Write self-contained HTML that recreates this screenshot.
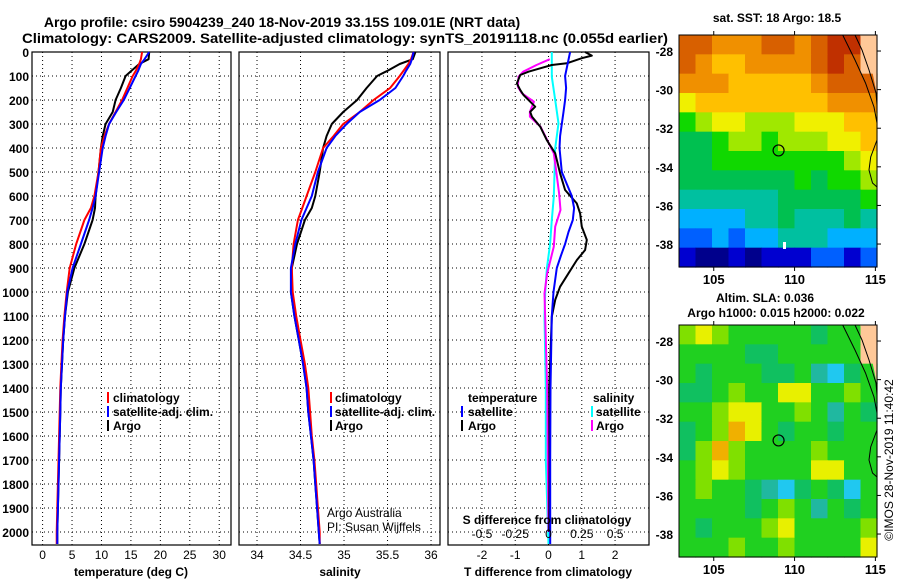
<!DOCTYPE html>
<html><head><meta charset="utf-8"><style>
html,body{margin:0;padding:0;background:#fff;}
svg{display:block;font-family:"Liberation Sans",Arial,sans-serif;}
</style></head><body>
<svg id="fig" width="900" height="580" viewBox="0 0 900 580" xmlns="http://www.w3.org/2000/svg">
<text x="282" y="27" text-anchor="middle" font-size="14" font-weight="bold">Argo profile: csiro 5904239_240 18-Nov-2019 33.15S 109.01E (NRT data)</text>
<text x="22" y="43" font-size="14" font-weight="bold" textLength="646" lengthAdjust="spacingAndGlyphs">Climatology: CARS2009. Satellite-adjusted climatology: synTS_20191118.nc (0.055d earlier)</text>
<g id="maps"></g>
<g id="plots"></g>
<text transform="translate(893,460) rotate(-90)" text-anchor="middle" font-size="12">©IMOS 28-Nov-2019 11:40:42</text>
</svg>
<script>
// ---------- data ----------
const depthT = [0,30,50,80,100,150,200,250,300,350,400,500,600,650,700,800,900,1000,1100,1200,1300,1400,1500,1600,1700,1800,1900,2000,2050];
const tempClim = [16.9,16.7,16.4,15.8,15.3,14.4,13.5,12.4,11.3,10.5,9.9,9.5,8.8,8.2,7.1,5.7,4.6,4.1,3.7,3.4,3.2,3.0,2.9,2.8,2.7,2.6,2.5,2.4,2.4];
const tempSat = [18.1,17.3,16.7,16.2,15.8,14.8,13.8,12.5,11.3,10.7,10.2,9.6,9.0,8.5,7.9,6.5,5.1,4.2,3.8,3.5,3.3,3.1,3.0,2.9,2.8,2.7,2.6,2.5,2.5];
const tempArgo = [18.1,18.0,16.4,15.0,14.1,13.3,12.4,11.9,10.7,10.2,9.9,9.5,9.0,8.9,8.5,7.1,5.4,4.3,3.8,3.5,3.3,3.1,3.0,2.9,2.8,2.7,2.6,2.5,2.5];
const salClim = [35.80,35.77,35.74,35.68,35.64,35.53,35.34,35.18,34.99,34.88,34.76,34.67,34.57,34.52,34.47,34.42,34.40,34.41,34.45,34.50,34.55,34.59,34.61,34.63,34.66,34.68,34.70,34.72,34.72];
const salSat = [35.80,35.78,35.76,35.71,35.68,35.59,35.41,35.18,35.03,34.90,34.80,34.70,34.63,34.57,34.51,34.44,34.39,34.39,34.43,34.48,34.53,34.57,34.59,34.62,34.65,34.67,34.69,34.71,34.72];
const salArgo = [35.82,35.79,35.64,35.49,35.38,35.26,35.15,34.99,34.86,34.80,34.76,34.72,34.67,34.63,34.55,34.46,34.40,34.39,34.43,34.48,34.53,34.57,34.59,34.62,34.65,34.67,34.69,34.71,34.72];
const depthDTsat = [0,100,150,200,250,300,350,400,500,550,600,650,700,750,800,850,900,1000,1100,1400,1700,2050];
const dTsat = [0.65,0.5,0.53,0.5,0.45,0.4,0.35,0.33,0.4,0.55,0.7,0.77,0.73,0.6,0.5,0.37,0.25,0.15,0.1,0.06,0.05,0.05];
const depthDTargo = [0,15,26,47,54,68,82,96,131,158,179,207,228,249,269,311,367,422,506,575,631,672,728,783,825,867,922,978,1033,1103,1400,1700,2000];
const dTargo = [1.1,1.3,1.0,0.55,0.1,-0.25,-0.6,-0.85,-0.95,-0.85,-0.75,-0.55,-0.4,-0.55,-0.5,-0.25,-0.05,0.2,0.35,0.5,0.85,0.95,1.0,1.15,1.1,0.85,0.6,0.35,0.2,0.1,0.02,0.03,0.02];
const depthDSargo = [30,54,82,103,145,172,207,249,269,311,367,422,506,589,658,728,811,922,1006,1400,2000];
const dSargo = [0.01,-0.09,-0.19,-0.225,-0.23,-0.2,-0.11,-0.14,-0.14,-0.06,-0.01,0.04,0.06,0.08,0.09,0.05,0.04,-0.01,-0.03,-0.01,0.0];
const depthDSsat = [0,103,200,297,401,506,603,700,800,900,1000,1103,1400,1700,2050];
const dSsat = [0.025,0.025,0.05,0.075,0.05,0.045,0.04,0.025,0.012,-0.012,-0.025,-0.03,-0.02,-0.02,0.0];
const depthTicks = [0,100,200,300,400,500,600,700,800,900,1000,1100,1200,1300,1400,1500,1600,1700,1800,1900,2000];
const tempTicks = [0,5,10,15,20,25,30];
const salTicks = [34,34.5,35,35.5,36];
const salTickLabels = ["34","34.5","35","35.5","36"];
const dTTicks = [-2,-1,0,1,2];
const dSTicks = [-0.5,-0.25,0,0.25,0.5];
const dSTickLabels = ["-0.5","-0.25","0","0.25","0.5"];
const latTicks = [-28,-30,-32,-34,-36,-38];
const lonTicks = [105,110,115];
// SST colour index grid (12x12, row 0 = north)
const sstGrid = [
[11,11,10,10,10,11,11,10,11,12,12,-1],
[11,10,9,9,10,10,10,10,11,12,11,-1],
[10,10,10,9,9,9,9,9,10,11,11,11],
[8,9,9,9,9,9,9,9,9,10,10,10],
[6,7,8,8,7,7,7,8,8,8,9,9],
[5,5,6,7,7,6,7,7,7,8,8,9],
[5,5,6,6,6,6,6,6,6,6,7,8],
[5,5,5,5,5,5,5,6,5,6,6,7],
[4,4,4,4,4,4,5,5,5,5,5,6],
[3,3,3,3,4,4,5,4,4,4,5,4],
[2,2,3,2,3,3,4,4,4,3,3,3],
[1,0,0,1,0,1,1,1,2,2,1,2]];
const slaGrid = [
[4,5,4,3,3,3,3,3,2,3,3,-1],
[3,3,3,3,2,2,3,3,3,3,3,-1],
[3,2,3,3,3,2,2,3,1,0,2,3],
[2,2,3,4,3,3,5,5,3,3,4,3],
[3,3,4,5,5,3,3,4,3,1,3,2],
[2,3,4,6,5,3,2,3,3,2,3,3],
[2,4,6,4,3,3,3,3,4,3,3,3],
[3,4,5,4,3,3,3,3,5,5,3,3],
[3,4,3,3,2,1,0,2,3,2,0,3],
[3,3,3,3,2,3,4,3,1,3,2,3],
[3,2,3,3,3,4,5,3,3,3,3,4],
[3,3,3,4,3,3,4,3,3,3,3,5]];
const sstColors = ["#00008c","#0000d0","#0060ff","#00b0ff","#00c0a0","#00c050","#10d800","#a0e800","#f0f000","#ffc000","#f09000","#d86000","#c03000","#a00000"];
const slaColors = ["#20c8f0","#20b8a0","#10c060","#20d020","#80e000","#e8f000","#f0b000"];
const floatLon = 109.01, floatLat = -33.15;

// ---------- helpers ----------
const NS = "http://www.w3.org/2000/svg";
function mk(tag, attrs, parent){ const e=document.createElementNS(NS,tag); for(const k in attrs) e.setAttribute(k,attrs[k]); parent.appendChild(e); return e; }
const plots = document.getElementById('plots');
const Y0=52, YB=545, DMAX=(YB-Y0)/0.24;
function yD(d){ return Y0 + d*0.24; }

function panel(name, x0, x1, vmin, vmax, ticks, labels){
  const g = mk('g',{},plots);
  
  
  const sx = v => x0 + (v-vmin)/(vmax-vmin)*(x1-x0);
  depthTicks.forEach(d=>{
    const l = mk('line',{x1:x0,x2:x1,y1:yD(d),y2:yD(d),stroke:'#000','stroke-width':1,'stroke-dasharray':'1,3'},g);
    
    
  });
  ticks.forEach((t,i)=>{
    const l = mk('line',{x1:sx(t),x2:sx(t),y1:Y0,y2:YB,stroke:'#000','stroke-width':1,'stroke-dasharray':'1,3'},g);
    
    
    if(labels){
      const tx = mk('text',{x:sx(t),y:559,'text-anchor':'middle','font-size':12},g);
      tx.textContent = labels[i];
      
      
    }
  });
  const r = mk('rect',{x:x0,y:Y0,width:x1-x0,height:YB-Y0,fill:'none',stroke:'#000','stroke-width':1.2},g);
  
  
  return {g, sx};
}
function series(p, depths, vals, color, name){
  const pts = depths.map((d,i)=>p.sx(vals[i]).toFixed(1)+','+yD(d).toFixed(1)).join(' ');
  const pl = mk('polyline',{points:pts,fill:'none',stroke:color,'stroke-width':2,'stroke-linejoin':'round'},p.g);
  
  
}
function label(g, x, y, txt, name, opts){
  const t = mk('text',Object.assign({x:x,y:y,'font-size':12},opts||{}),g);
  t.textContent = txt;
  
  
  return t;
}
function legBar(g,x,y,color,name){
  const r = mk('rect',{x:x,y:y-10,width:2,height:11,fill:color},g);
  
  
}

// ---------- panel 1: temperature ----------
const p1 = panel('temperature-panel', 32, 231, -1.8, 32, tempTicks, tempTicks.map(String));
depthTicks.forEach(d=>{ label(p1.g, 29, yD(d)+5, String(d), 'depth-tick-label', {'text-anchor':'end','font-weight':'bold'}); });
series(p1, depthT, tempArgo, '#000', 'temp-argo-line');
series(p1, depthT, tempClim, '#ff0000', 'temp-climatology-line');
series(p1, depthT, tempSat, '#0000ff', 'temp-satellite-line');
label(p1.g, 131, 576, 'temperature (deg C)', 'temperature-axis-title', {'text-anchor':'middle','font-weight':'bold'});
legBar(p1.g,107,402,'#ff0000','legend-swatch-climatology'); label(p1.g,113,402,'climatology','legend-climatology',{'font-weight':'bold'});
legBar(p1.g,107,416,'#0000ff','legend-swatch-satellite'); label(p1.g,113,416,'satellite-adj. clim.','legend-satellite',{'font-weight':'bold'});
legBar(p1.g,107,430,'#000','legend-swatch-argo'); label(p1.g,113,430,'Argo','legend-argo',{'font-weight':'bold'});

// ---------- panel 2: salinity ----------
const p2 = panel('salinity-panel', 239, 440, 33.793, 36.103, salTicks, salTickLabels);
series(p2, depthT, salArgo, '#000', 'sal-argo-line');
series(p2, depthT, salClim, '#ff0000', 'sal-climatology-line');
series(p2, depthT, salSat, '#0000ff', 'sal-satellite-line');
label(p2.g, 340, 576, 'salinity', 'salinity-axis-title', {'text-anchor':'middle','font-weight':'bold'});
legBar(p2.g,330,402,'#ff0000','legend-swatch-climatology'); label(p2.g,335,402,'climatology','legend-climatology',{'font-weight':'bold'});
legBar(p2.g,330,416,'#0000ff','legend-swatch-satellite'); label(p2.g,335,416,'satellite-adj. clim.','legend-satellite',{'font-weight':'bold'});
legBar(p2.g,330,430,'#000','legend-swatch-argo'); label(p2.g,335,430,'Argo','legend-argo',{'font-weight':'bold'});
label(p2.g, 327, 517, 'Argo Australia', 'credit-argo-australia');
label(p2.g, 327, 531, 'PI: Susan Wijffels', 'credit-pi');

// ---------- panel 3: differences ----------
const p3 = panel('difference-panel', 448, 649, -3.02, 3.02, dTTicks, dTTicks.map(String));
const p3s = {g:p3.g, sx: v => p3.sx(v*4)};
series(p3s, depthDSsat, dSsat, '#00ffff', 'sdiff-satellite-line');
series(p3s, depthDSargo, dSargo, '#ff00ff', 'sdiff-argo-line');
series(p3, depthDTargo, dTargo, '#000', 'tdiff-argo-line');
series(p3, depthDTsat, dTsat, '#0000ff', 'tdiff-satellite-line');
label(p3.g, 548, 576, 'T difference from climatology', 'tdiff-axis-title', {'text-anchor':'middle','font-weight':'bold'});
label(p3.g, 547, 524, 'S difference from climatology', 'sdiff-axis-title', {'text-anchor':'middle','font-weight':'bold'});
dSTicks.forEach((t,i)=>{ label(p3.g, p3s.sx(t), 538, dSTickLabels[i], 'sdiff-tick-label', {'text-anchor':'middle'}); });
label(p3.g,468,402,'temperature','legend-temperature-heading',{'font-weight':'bold'});
label(p3.g,593,402,'salinity','legend-salinity-heading',{'font-weight':'bold'});
legBar(p3.g,461,416,'#0000ff','legend-swatch-t-satellite'); label(p3.g,468,416,'satellite','legend-t-satellite',{'font-weight':'bold'});
legBar(p3.g,461,430,'#000','legend-swatch-t-argo'); label(p3.g,468,430,'Argo','legend-t-argo',{'font-weight':'bold'});
legBar(p3.g,591,416,'#00ffff','legend-swatch-s-satellite'); label(p3.g,596,416,'satellite','legend-s-satellite',{'font-weight':'bold'});
legBar(p3.g,591,430,'#ff00ff','legend-swatch-s-argo'); label(p3.g,596,430,'Argo','legend-s-argo',{'font-weight':'bold'});

// ---------- maps ----------
const maps = document.getElementById('maps');
const MX0=679, MX1=877, LON0=102.85, LON1=115.1, LAT0=-27.17, LAT1=-39.19;
function drawMap(name, top, grid, colors, title1, title2){
  const g = mk('g',{},maps);
  
  
  const bot = top + 232;
  const lx = lon => MX0 + (lon-LON0)/(LON1-LON0)*(MX1-MX0);
  const ly = lat => top + (lat-LAT0)/(LAT1-LAT0)*(bot-top);
  const rows = grid.length, cols = grid[0].length;
  const cw = (MX1-MX0)/cols, ch = (bot-top)/rows;
  grid.forEach((row,r)=>row.forEach((v,c)=>{
    const cell = mk('rect',{x:(MX0+c*cw).toFixed(2),y:(top+r*ch).toFixed(2),width:(cw+0.6).toFixed(2),height:(ch+0.6).toFixed(2),fill: v<0 ? '#ffc898' : colors[v]},g);
    
    
  }));
  // land and coastline
  const land = mk('polygon',{points:`860,${top} 877,${top} 877,${top+60} 872,${top+35} 865.5,${top+18}`,fill:'#ffc898'},g);
  
  
  const c1 = mk('polyline',{points:`842.7,${top} 855,${top+25} 865.5,${top+48} 874,${top+72} 877,${top+88}`,fill:'none',stroke:'#000','stroke-width':1},g);
  
  
  const c2 = mk('polyline',{points:`855,${top} 862,${top+15} 869,${top+35} 876,${top+58} 877,${top+70}`,fill:'none',stroke:'#000','stroke-width':1},g);
  
  
  const c3 = mk('polyline',{points:`877,${top+105} 870.7,${top+122} 869,${top+135} 872.5,${top+148} 877,${top+152}`,fill:'none',stroke:'#000','stroke-width':1},g);
  
  
  const fr = mk('rect',{x:MX0,y:top,width:MX1-MX0,height:bot-top,fill:'none',stroke:'#000','stroke-width':1},g);
  
  
  latTicks.forEach(lat=>{
    const y = ly(lat);
    mk('line',{x1:MX1,x2:MX1+4,y1:y,y2:y,stroke:'#000'},g);
    label(g, 673, y+5, String(lat), 'lat-tick-label', {'text-anchor':'end','font-weight':'bold'});
  });
  lonTicks.forEach(lon=>{
    const x = lx(lon);
    mk('line',{x1:x,x2:x,y1:top-4,y2:top,stroke:'#000'},g);
    mk('line',{x1:x,x2:x,y1:bot,y2:bot+4,stroke:'#000'},g);
    label(g, x, bot+17, String(lon), 'lon-tick-label', {'text-anchor':'middle','font-weight':'bold','font-size':13});
  });
  const m = mk('circle',{cx:lx(floatLon),cy:ly(floatLat),r:5.5,fill:'none',stroke:'#000','stroke-width':1.2},g);
  
  
  if(title2){
    label(g, 765, top-23, title1, 'map-title', {'text-anchor':'middle','font-weight':'bold'});
    label(g, 776, top-8, title2, 'map-subtitle', {'text-anchor':'middle','font-weight':'bold'});
  } else {
    label(g, 777, top-13, title1, 'map-title', {'text-anchor':'middle','font-weight':'bold'});
  }
  return {g, lx, ly};
}
const m1 = drawMap('sst-map', 35, sstGrid, sstColors, 'sat. SST: 18 Argo: 18.5');
const wb = mk('rect',{x:783,y:242,width:3,height:7,fill:'#fff'},m1.g);


drawMap('sla-map', 325, slaGrid, slaColors, 'Altim. SLA: 0.036', 'Argo h1000: 0.015 h2000: 0.022');
</script>
</body></html>
